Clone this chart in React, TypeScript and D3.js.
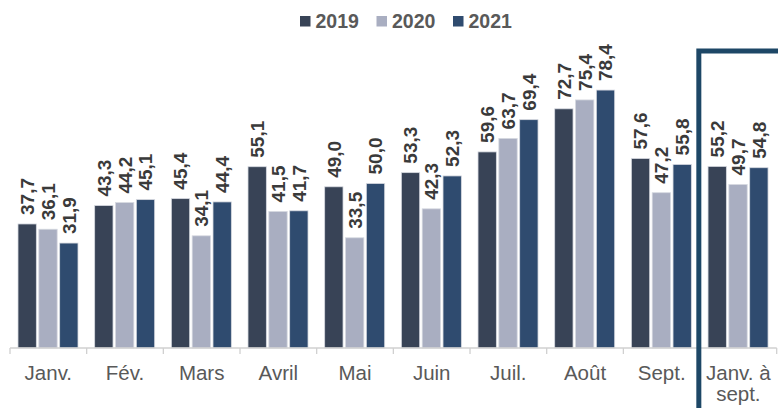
import React from 'react';
import * as d3 from 'd3';

// Monthly values
const months = ['Janv.', 'Fév.', 'Mars', 'Avril', 'Mai', 'Juin', 'Juil.', 'Août', 'Sept.', 'Janv. à\nsept.'];
const years = ['2019', '2020', '2021'];
const values2019 = [37.7, 43.3, 45.4, 55.1, 49.0, 53.3, 59.6, 72.7, 57.6, 55.2];
const values2020 = [36.1, 44.2, 34.1, 41.5, 33.5, 42.3, 63.7, 75.4, 47.2, 49.7];
const values2021 = [31.9, 45.1, 44.4, 41.7, 50.0, 52.3, 69.4, 78.4, 55.8, 54.8];

const colors = ['#384356', '#a9aec1', '#2f4b6f'];
const series = [values2019, values2020, values2021];

const W = 778;
const H = 408;
const baseY = 348;

export default function App() {
  const x = d3.scaleBand<string>().domain(months).range([10, 776.7]).paddingInner(0).paddingOuter(0);
  const xs = d3.scaleBand<string>().domain(years).range([8, 8 + 60]).paddingInner(0.12).paddingOuter(0);
  const y = d3.scaleLinear().domain([0, 80]).range([baseY, baseY - 80 * 3.29]);

  const fmt = (v: number) => v.toFixed(1).replace('.', ',');
  const font = '"Liberation Sans", Arial, sans-serif';

  const ticks = [...months.map(m => x(m) as number), 776.7];
  const lastX = x(months[months.length - 1]) as number;

  return (
    <div style={{ position: 'fixed', left: 0, top: 0 }}>
      <svg width={W} height={H} style={{ display: 'block', background: '#fff' }} fontFamily={font}>
        {/* legend */}
        <g>
          {years.map((yr, i) => (
            <g key={yr} transform={`translate(${300 + i * 76.5},0)`}>
              <rect x={0} y={16} width={10.5} height={10.5} fill={colors[i]} />
              <text x={15.5} y={27.5} fontSize={19.5} fontWeight="bold" fill="#595959">{yr}</text>
            </g>
          ))}
        </g>

        {/* bars */}
        {months.map((m, mi) => (
          <g key={m} transform={`translate(${x(m)},0)`}>
            {years.map((yr, si) => {
              const v = series[si][mi];
              const bx = xs(yr) as number;
              const bw = xs.bandwidth();
              return (
                <g key={yr}>
                  <rect x={bx} y={y(v)} width={bw} height={baseY - y(v)} fill={colors[si]} stroke="#d6d9e0" strokeWidth={0.8} />
                  <text
                    transform={`translate(${bx + bw / 2},${y(v) - 9}) rotate(-90)`}
                    dy="0.36em"
                    fontSize={19}
                    fontWeight="bold"
                    fill="#3a3a3a"
                  >{fmt(v)}</text>
                </g>
              );
            })}
          </g>
        ))}

        {/* axis */}
        <line x1={10} x2={776.7} y1={baseY} y2={baseY} stroke="#d0d0d0" strokeWidth={1.3} />
        {ticks.map((t, i) => (
          <line key={i} x1={t} x2={t} y1={baseY} y2={baseY + 6} stroke="#d0d0d0" strokeWidth={1.3} />
        ))}
        {months.map(m => (
          <text key={m} x={(x(m) as number) + x.bandwidth() / 2} y={380} textAnchor="middle" fontSize={20.5} fill="#595959">
            {m.split('\n').map((line, li) => (
              <tspan key={li} x={(x(m) as number) + x.bandwidth() / 2} dy={li === 0 ? 0 : 21}>{line}</tspan>
            ))}
          </text>
        ))}

        {/* highlight frame around the year-to-date group */}
        <path d={`M${lastX - 1.2},${H + 5} V51 H${W + 5}`} fill="none" stroke="#1d4766" strokeWidth={5} />
      </svg>
    </div>
  );
}
